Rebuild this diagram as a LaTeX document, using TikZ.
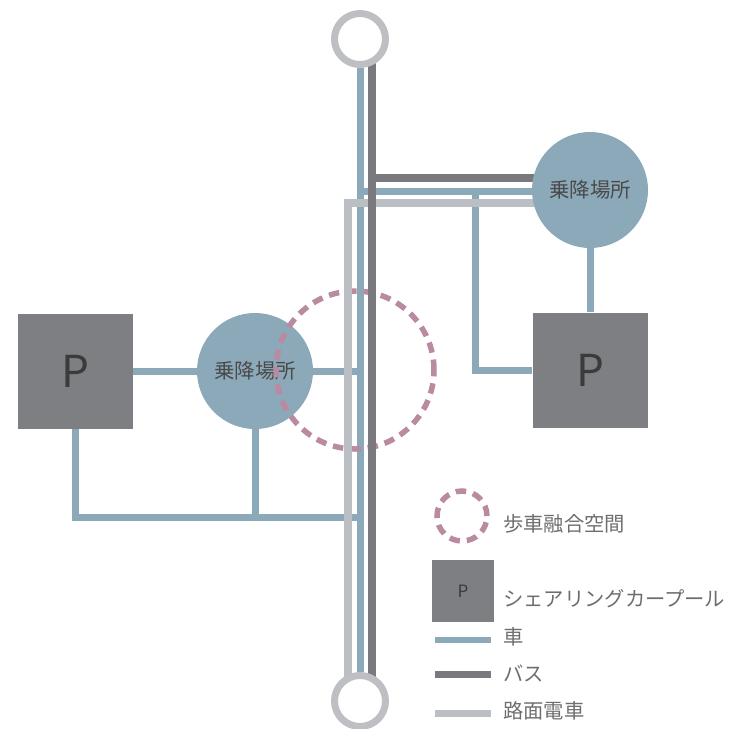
\documentclass[tikz,border=0pt]{standalone}
\usepackage{fontspec}
\setmainfont{Noto Sans CJK JP}
\definecolor{carblue}{HTML}{8CA9BA}
\definecolor{busgray}{HTML}{7A7A7E}
\definecolor{tramgray}{HTML}{BBBEC2}
\definecolor{boxgray}{HTML}{7E7F83}
\definecolor{ringgray}{HTML}{BDBFC2}
\definecolor{zonepink}{HTML}{B98AA0}
\definecolor{hubtext}{HTML}{4A4A4A}
\definecolor{keytext}{HTML}{6E6E6E}
\pgfdeclarelayer{car}
\pgfdeclarelayer{hub}
\pgfdeclarelayer{zone}
\pgfdeclarelayer{tram}
\pgfdeclarelayer{bus}
\pgfsetlayers{car,hub,zone,tram,bus,main}
\begin{document}
\begin{tikzpicture}[x=1pt,y=-1pt,
  carline/.style={draw=carblue,line width=7pt},
  busline/.style={draw=busgray,line width=8pt},
  tramline/.style={draw=tramgray,line width=8pt},
  hubstop/.style={circle,fill=carblue,inner sep=0pt,minimum size=116pt,
    text=hubtext,font=\fontsize{20.5}{20.5}\selectfont},
  parkbox/.style={rectangle,fill=boxgray,inner sep=0pt,minimum size=115pt,
    text=hubtext!80!black,font=\fontsize{44}{44}\selectfont},
  endring/.style={circle,draw=ringgray,line width=7pt,fill=white,inner sep=0pt,minimum size=51pt},
  sharezone/.style={circle,draw=zonepink,line width=5.5pt,dash pattern=on 10.5pt off 7pt,inner sep=0pt},
  keylabel/.style={anchor=west,text=keytext,font=\fontsize{20.3}{20.3}\selectfont,inner sep=0pt}]
\useasboundingbox (0,0) rectangle (729,729);

% terminals of the trunk line
\node[endring] (top) at (360,39) {};
\node[endring] (bot) at (360,701) {};

% stops and car-share parking
\begin{pgfonlayer}{hub}
  \node[hubstop] (lc) at (255,371) {乗降場所};
  \node[parkbox] (lbox) at (75,371) {P};
  \node[parkbox] (rbox) at (590,370) {P};
\end{pgfonlayer}
\node[hubstop] (rc) at (590,190) {乗降場所};

% junction points
\coordinate (cj) at (360,191);
\coordinate (bj) at (372,178);
\coordinate (tj) at (348,203);
\coordinate (kj) at (475,191);
\coordinate (sj) at (360,517);

% car roads
\begin{pgfonlayer}{car}
  \draw[carline] (top) -- (bot);
  \draw[carline] (cj) -- (cj -| rc);
  \draw[carline] (kj) -- (kj |- rbox) -- (rbox);
  \draw[carline] (rc) -- (rbox);
  \draw[carline] (lbox) -- (lc);
  \draw[carline] (lc) -- (lc -| top);
  \draw[carline] (lbox) -- (lbox |- sj) -- (sj);
  \draw[carline] (lc) -- (lc |- sj);
\end{pgfonlayer}

% shared pedestrian and vehicle space
\begin{pgfonlayer}{zone}
  \node[sharezone,minimum size=158pt] (zone) at (355,370) {};
\end{pgfonlayer}

% tram
\begin{pgfonlayer}{tram}
  \draw[tramline] (tj -| rc) -- (tj) -- (tj |- bot);
\end{pgfonlayer}

% bus
\begin{pgfonlayer}{bus}
  \draw[busline] (bj |- top) -- (bj |- bot);
  \draw[busline] (bj) -- (bj -| rc);
\end{pgfonlayer}

% legend
\node[sharezone,minimum size=50pt] (kzone) at (462,516) {};
\node[keylabel] (tzone) at (503,524) {歩車融合空間};
\node[parkbox,minimum size=62pt,font=\fontsize{17}{17}\selectfont] (kbox) at (463,591) {P};
\node[keylabel] (tbox) at (503,599) {シェアリングカープール};
\coordinate (kc1) at (435,640);
\coordinate (kc2) at (491,640);
\draw[carline,line width=6pt] (kc1) -- (kc2);
\node[keylabel] (tcar) at (503,637) {車};
\coordinate (kb1) at (435,674);
\coordinate (kb2) at (491,674);
\draw[busline,line width=7pt] (kb1) -- (kb2);
\node[keylabel] (tbus) at (503,673) {バス};
\coordinate (kt1) at (435,713);
\coordinate (kt2) at (491,713);
\draw[tramline,line width=7pt] (kt1) -- (kt2);
\node[keylabel] (ttram) at (503,711) {路面電車};
\end{tikzpicture}
\end{document}
